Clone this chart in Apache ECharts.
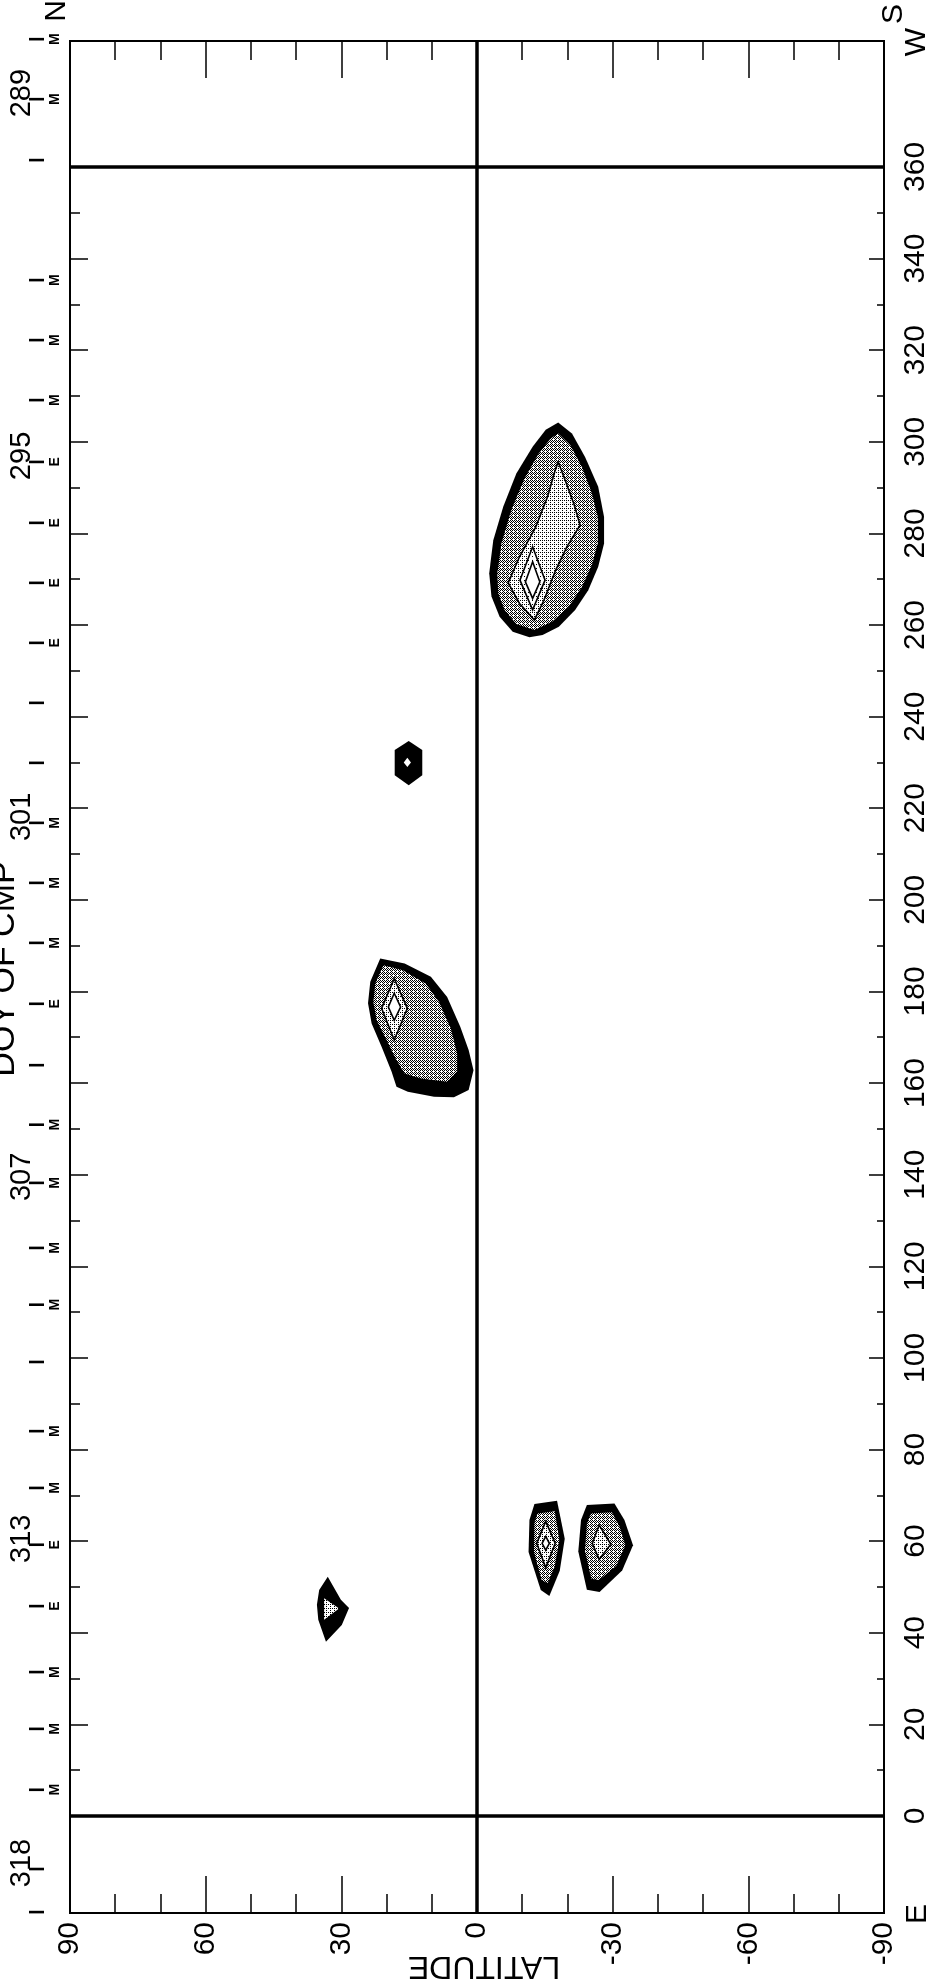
<!DOCTYPE html>
<html><head><meta charset="utf-8">
<script src="https://cdn.jsdelivr.net/npm/echarts@6/dist/echarts.min.js"></script>
<style>html,body{margin:0;padding:0;background:#fff}#c{width:931px;height:1986px}</style>
</head><body><div id="c"></div>
<script>
// ---------- axis data ----------
const latRange = [-90, 90];
const lonRange = [-21.2, 387.5];
const lonLabels = [0,20,40,60,80,100,120,140,160,180,200,220,240,260,280,300,320,340,360];
const lonMajorTicks = [0,20,40,60,80,100,120,140,160,180,200,220,240,260,280,300,320,340,360];
const lonMinorTicks = [10,30,50,70,90,110,130,150,170,190,210,230,250,270,290,310,330,350];
const thickLat = [0];
const thickLon = [0, 360];

// ---------- DOY of CMP markers (position expressed in longitude) ----------
const doyTickLon    = [387.9,374.8,361.5,335.3,322.2,309.1,295.6,282.3,269.2,256.1,243.0,229.9,216.8,203.7,190.6,177.3,163.9,150.9,138.2,124.0,111.6,99.1,84.0,71.6,59.2,45.8,31.4,19.0,5.7,-11.6,-21.0];
const doyTickLetter = ['M','M','','M','M','M','E','E','E','E','','','M','M','M','E','','M','M','M','M','','M','M','E','E','M','M','M','',''];
const doyTickLabel  = ['','289','','','','','295','','','','','','301','','','','','','307','','','','','','313','','','','','318',''];

// ---------- contour polygons [latitude, longitude] ----------
const blobA_level1 = [[-17.96,304.2],[-21.0,301.8],[-23.9,296.7],[-26.8,290.2],[-28.1,283.6],[-28.1,277.8],[-26.8,272.7],[-24.6,267.6],[-21.7,263.3],[-18.1,259.6],[-14.5,257.8],[-11.6,257.3],[-7.9,258.5],[-5.0,261.8],[-3.2,266.2],[-2.7,271.3],[-3.6,278.5],[-5.8,285.8],[-8.7,293.1],[-12.3,298.9],[-15.2,302.6]];
const blobA_level2 = [[-17.96,301.8],[-20.6,299.3],[-23.2,294.5],[-25.4,288.7],[-26.7,283.6],[-26.7,277.8],[-25.4,273.1],[-23.2,268.3],[-20.3,264.0],[-16.6,260.7],[-12.7,258.9],[-8.7,260.2],[-6.1,263.3],[-4.7,266.9],[-4.5,271.3],[-5.4,277.8],[-7.6,285.1],[-10.5,292.0],[-13.7,297.5],[-16.3,300.7]];
const blobA_level3 = [[-17.96,295.6],[-19.5,291.6],[-21.4,286.5],[-22.8,281.8],[-19.9,277.1],[-17.4,272.0],[-14.8,265.4],[-12.7,261.1],[-9.4,264.7],[-6.9,269.2],[-9.4,274.9],[-13.0,281.4],[-15.6,288.0],[-17.2,293.5]];
const blobA_level4 = [[-12.3,277.1],[-15.05,269.8],[-12.3,263.3],[-9.5,269.8]];
const blobA_level5 = [[-12.3,273.8],[-13.9,269.4],[-12.3,265.8],[-10.7,269.4]];

const blobB_level1 = [[21.4,187.2],[16.0,186.1],[10.2,183.2],[6.6,178.8],[3.7,172.3],[1.85,167.2],[0.77,162.8],[1.85,158.5],[5.1,156.9],[9.5,157.0],[15.3,158.1],[17.8,159.2],[18.9,162.5],[21.1,167.9],[23.3,173.0],[24.1,177.4],[23.6,182.1]];
const blobB_level2 = [[20.7,185.7],[16.4,184.6],[11.3,181.7],[8.4,177.7],[5.8,171.9],[4.4,166.5],[4.4,162.5],[6.6,160.3],[12.4,161.0],[16.0,162.1],[17.8,165.0],[20.0,169.4],[22.2,173.7],[22.9,177.7],[22.5,181.7]];
const blobB_level3 = [[18.3,182.8],[15.4,176.3],[18.3,169.4],[21.1,176.3]];
const blobB_level4 = [[18.3,179.6],[16.9,176.6],[18.3,173.7],[19.6,176.6]];

const blobC_level1 = [[15.1,234.7],[12.1,232.7],[12.1,227.2],[15.1,225.0],[18.2,227.2],[18.2,232.7]];
const blobC_level2 = [[15.4,231.0],[14.6,230.0],[15.4,229.0],[16.2,230.0]];

const blobD_level1 = [[33.0,52.2],[30.1,47.2],[28.3,45.4],[29.9,41.7],[33.4,38.0],[35.1,42.8],[35.4,46.1],[34.9,49.3]];
const blobD_level2 = [[33.8,47.5],[30.5,45.3],[33.8,42.8]];

const blobE_level1 = [[-12.7,68.1],[-17.7,68.8],[-19.4,60.5],[-18.3,53.5],[-16.0,48.0],[-14.1,49.3],[-11.4,57.6],[-11.6,64.6]];
const blobE_level2 = [[-13.4,66.0],[-17.2,66.5],[-18.2,60.3],[-17.2,54.5],[-15.6,50.8],[-14.3,51.5],[-12.6,57.6],[-12.7,64.0]];
const blobE_level3 = [[-15.2,64.3],[-17.3,59.5],[-15.2,54.2],[-13.2,59.5]];
const blobE_level4 = [[-15.2,61.0],[-16.0,59.5],[-15.2,58.0],[-14.4,59.5]];

const blobF_level1 = [[-24.3,67.9],[-30.4,68.2],[-32.6,64.6],[-34.5,59.1],[-32.1,53.6],[-27.1,48.9],[-24.3,49.4],[-22.4,57.7],[-23.0,64.6]];
const blobF_level2 = [[-25.2,66.0],[-29.8,66.3],[-31.5,63.2],[-32.8,59.1],[-30.8,54.6],[-27.0,51.5],[-25.3,51.8],[-23.9,57.7],[-24.3,63.8]];
const blobF_level3 = [[-27.0,63.5],[-29.6,59.3],[-27.0,56.0],[-25.5,59.5]];

// ---------- styles ----------
function dither(n) {
  const c = document.createElement('canvas'); c.width = 4; c.height = 4;
  const ctx = c.getContext('2d');
  ctx.fillStyle = '#ffffff'; ctx.fillRect(0, 0, 4, 4);
  const bayer = [[0,8,2,10],[12,4,14,6],[3,11,1,9],[15,7,13,5]];
  ctx.fillStyle = '#000000';
  for (let y = 0; y < 4; y++) for (let x = 0; x < 4; x++) if (bayer[y][x] < n) ctx.fillRect(x, y, 1, 1);
  return {image: c, repeat: 'repeat'};
}
const BLACK = '#000000', DARK = dither(7), LIGHT = dither(3), PALE = dither(1), WHITE = '#ffffff';
const FONT = '"Liberation Sans", Arial, Helvetica, sans-serif';

const polys = [
  {pts: blobA_level1, fill: BLACK},
  {pts: blobA_level2, fill: DARK},
  {pts: blobA_level3, fill: LIGHT, stroke: BLACK},
  {pts: blobA_level4, fill: PALE, stroke: BLACK},
  {pts: blobA_level5, fill: WHITE, stroke: BLACK},
  {pts: blobB_level1, fill: BLACK},
  {pts: blobB_level2, fill: DARK},
  {pts: blobB_level3, fill: LIGHT, stroke: BLACK},
  {pts: blobB_level4, fill: WHITE, stroke: BLACK},
  {pts: blobC_level1, fill: BLACK},
  {pts: blobC_level2, fill: WHITE},
  {pts: blobD_level1, fill: BLACK},
  {pts: blobD_level2, fill: LIGHT},
  {pts: blobE_level1, fill: BLACK},
  {pts: blobE_level2, fill: DARK},
  {pts: blobE_level3, fill: LIGHT, stroke: BLACK},
  {pts: blobE_level4, fill: WHITE, stroke: BLACK},
  {pts: blobF_level1, fill: BLACK},
  {pts: blobF_level2, fill: DARK},
  {pts: blobF_level3, fill: LIGHT, stroke: BLACK}
];

const chart = echarts.init(document.getElementById('c'), null, {renderer: 'canvas'});

const noLine = {show: false, onZero: false};
const xBase = {type: 'value', min: latRange[0], max: latRange[1], inverse: true,
  splitLine: {show: false}, axisLine: noLine};
const yBase = {type: 'value', min: lonRange[0], max: lonRange[1],
  splitLine: {show: false}, axisLine: noLine};
const tickStyle = {color: '#000', width: 1.5};

chart.setOption({
  animation: false,
  backgroundColor: '#fff',
  grid: {left: 70, right: 34, top: 41, bottom: 73, show: true, borderColor: '#000', borderWidth: 2, containLabel: false},
  xAxis: [
    Object.assign({}, xBase, {position: 'bottom', interval: 30,
      axisTick: {inside: true, length: 37, lineStyle: tickStyle},
      axisLabel: {rotate: 90, fontSize: 30, color: '#000', fontFamily: FONT, margin: 9, showMinLabel: true, showMaxLabel: true}}),
    Object.assign({}, xBase, {position: 'bottom', interval: 10,
      axisTick: {inside: true, length: 19, lineStyle: tickStyle}, axisLabel: {show: false}}),
    Object.assign({}, xBase, {position: 'top', interval: 30,
      axisTick: {inside: true, length: 37, lineStyle: tickStyle}, axisLabel: {show: false}}),
    Object.assign({}, xBase, {position: 'top', interval: 10,
      axisTick: {inside: true, length: 19, lineStyle: tickStyle}, axisLabel: {show: false}})
  ],
  yAxis: [
    Object.assign({}, yBase, {position: 'right',
      axisTick: {inside: true, length: 15, lineStyle: tickStyle, customValues: lonMajorTicks},
      axisLabel: {customValues: lonLabels, rotate: 90, fontSize: 30, color: '#000', fontFamily: FONT, margin: 17}}),
    Object.assign({}, yBase, {position: 'right',
      axisTick: {inside: true, length: 7, lineStyle: tickStyle, customValues: lonMinorTicks}, axisLabel: {show: false}}),
    Object.assign({}, yBase, {position: 'left',
      axisTick: {inside: true, length: 18, lineStyle: tickStyle, customValues: lonMajorTicks}, axisLabel: {show: false}}),
    Object.assign({}, yBase, {position: 'left',
      axisTick: {inside: true, length: 10, lineStyle: tickStyle, customValues: lonMinorTicks}, axisLabel: {show: false}})
  ],
  graphic: [
    {type: 'text', x: 5, y: 969, rotation: Math.PI / 2, style: {text: 'DOY OF CMP', font: '34px ' + FONT, fill: '#000', align: 'center', verticalAlign: 'middle'}},
    {type: 'text', x: 484, y: 1966, rotation: Math.PI, style: {text: 'LATITUDE', font: '32px ' + FONT, fill: '#000', align: 'center', verticalAlign: 'middle'}},
    {type: 'text', x: 57, y: 11, rotation: Math.PI / 2, style: {text: 'N', font: '30px ' + FONT, fill: '#000', align: 'center', verticalAlign: 'middle'}},
    {type: 'text', x: 894, y: 14, rotation: Math.PI / 2, style: {text: 'S', font: '30px ' + FONT, fill: '#000', align: 'center', verticalAlign: 'middle'}},
    {type: 'text', x: 917, y: 42, rotation: Math.PI / 2, style: {text: 'W', font: '30px ' + FONT, fill: '#000', align: 'center', verticalAlign: 'middle'}},
    {type: 'text', x: 918, y: 1914, rotation: Math.PI / 2, style: {text: 'E', font: '30px ' + FONT, fill: '#000', align: 'center', verticalAlign: 'middle'}}
  ],
  series: [
    {
      type: 'custom', coordinateSystem: 'cartesian2d', xAxisIndex: 0, yAxisIndex: 0,
      silent: true, clip: true, z: 2,
      data: polys.map((p, i) => [p.pts[0][0], p.pts[0][1], i]),
      renderItem: function (params, api) {
        const p = polys[params.dataIndex];
        return {
          type: 'polygon',
          shape: {points: p.pts.map(q => api.coord(q))},
          style: {fill: p.fill, stroke: p.stroke || null, lineWidth: 1.6, lineJoin: 'miter'}
        };
      }
    },
    {
      type: 'line', xAxisIndex: 0, yAxisIndex: 0, data: [], silent: true, z: 3,
      markLine: {
        symbol: 'none', silent: true, label: {show: false}, animation: false,
        lineStyle: {color: '#000', width: 3.5, type: 'solid'},
        emphasis: {disabled: true},
        data: thickLat.map(v => ({xAxis: v})).concat(thickLon.map(v => ({yAxis: v})))
      }
    },
    {
      type: 'custom', coordinateSystem: 'cartesian2d', xAxisIndex: 0, yAxisIndex: 0,
      silent: true, clip: false, z: 4,
      data: doyTickLon.map((v, i) => [90, v, i]),
      renderItem: function (params, api) {
        const i = params.dataIndex;
        const pt = api.coord([90, doyTickLon[i]]);
        const x0 = pt[0], y = pt[1];
        const children = [
          {type: 'line', shape: {x1: x0 - 41, y1: y, x2: x0 - 26, y2: y}, style: {stroke: '#000', lineWidth: 2.6}}
        ];
        if (doyTickLetter[i]) {
          children.push({type: 'text', x: x0 - 15, y: y, rotation: Math.PI / 2,
            style: {text: doyTickLetter[i], font: 'bold 14px ' + FONT, fill: '#000', align: 'center', verticalAlign: 'middle'}});
        }
        if (doyTickLabel[i]) {
          children.push({type: 'text', x: x0 - 48, y: y - 6, rotation: Math.PI / 2,
            style: {text: doyTickLabel[i], font: '29px ' + FONT, fill: '#000', align: 'center', verticalAlign: 'middle'}});
        }
        return {type: 'group', children: children};
      }
    }
  ]
});
</script>
</body></html>
